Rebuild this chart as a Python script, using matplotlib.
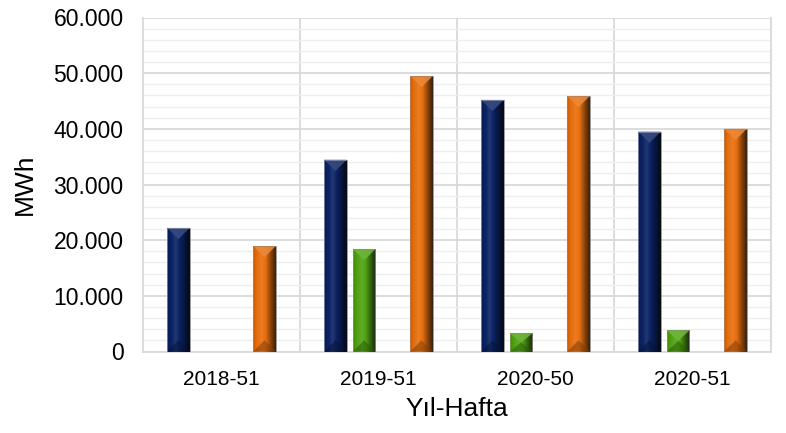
import numpy as np
import matplotlib
matplotlib.use("Agg")
import matplotlib.pyplot as plt
from matplotlib.colors import to_rgb
from matplotlib.patches import Polygon
from matplotlib.ticker import MultipleLocator, FuncFormatter

plt.rcParams['font.family'] = ['Liberation Sans', 'DejaVu Sans']

categories = ["2018-51", "2019-51", "2020-50", "2020-51"]
series_blue = [22200, 34450, 45200, 39500]
series_green = [0, 18400, 3250, 3800]
series_orange = [18950, 49500, 45900, 40000]
y_ticks = [0, 10000, 20000, 30000, 40000, 50000, 60000]

colors = {"blue": "#0a2264", "green": "#4fa310", "orange": "#e86e0c"}

W, H, DPI = 7.86, 4.33, 100
fig = plt.figure(figsize=(W, H), dpi=DPI)
L, R, B, T = 143/786, 771/786, 1 - 351.5/433, 1 - 17.5/433
ax = fig.add_axes([L, B, R - L, T - B])

ymax = 60000
xmin, xmax = -0.5, len(categories) - 0.5
ax_w_px = W * DPI * (R - L)
ax_h_px = H * DPI * (T - B)
px_x = (xmax - xmin) / ax_w_px
px_y = ymax / ax_h_px

slot = 28.7 * px_x
bw = 22.5 * px_x
offsets = [-1.5 * slot, -0.5 * slot, 1.5 * slot]  # third slot empty

def shade(c, f):
    c = np.array(to_rgb(c))
    if f >= 1:
        return tuple(c + (1 - c) * (f - 1))
    return tuple(c * f)

def draw_bar(x, h, col):
    if h <= 0:
        return
    bar = ax.bar(x, h, width=bw, color=col, edgecolor='none', linewidth=0, zorder=3)[0]
    stops = [(0.0, 0.8), (0.1, 0.95), (0.38, 1.1), (0.55, 1.0), (0.75, 0.65), (1.0, 0.28)]
    n = 64
    xs_ = np.linspace(0, 1, n)
    fs = np.interp(xs_, [s[0] for s in stops], [s[1] for s in stops])
    img = np.array([[shade(col, f) for f in fs]])
    im = ax.imshow(img, extent=[x - bw/2, x + bw/2, 0, h], aspect='auto',
                   interpolation='bilinear', zorder=3.1)
    im.set_clip_path(bar)
    th = (bw / px_x) / 2 * px_y
    th = min(th, h / 2)
    top = Polygon([[x - bw/2, h], [x + bw/2, h], [x, h - th]], closed=True,
                  facecolor=shade(col, 1.18), edgecolor='none', alpha=0.9, zorder=3.2)
    ax.add_patch(top)
    bot = Polygon([[x - bw/2, 0], [x + bw/2, 0], [x, th]], closed=True,
                  facecolor=shade(col, 0.55), edgecolor='none', alpha=0.55, zorder=3.2)
    ax.add_patch(bot)
    ax.add_patch(plt.Rectangle((x - bw/2, 0), bw, h, fill=False, edgecolor='#8c8c8c',
                               linewidth=0.6, zorder=3.3))

xs = np.arange(len(categories))
for i in range(len(categories)):
    draw_bar(xs[i] + offsets[0], series_blue[i], colors["blue"])
    draw_bar(xs[i] + offsets[1], series_green[i], colors["green"])
    draw_bar(xs[i] + offsets[2], series_orange[i], colors["orange"])

ax.set_xlim(xmin, xmax)
ax.set_ylim(0, ymax)
ax.set_yticks(y_ticks)
ax.yaxis.set_minor_locator(MultipleLocator(2000))
ax.yaxis.set_major_formatter(FuncFormatter(lambda v, p: f"{int(v):,}".replace(",", ".")))
ax.set_xticks(xs)
ax.set_xticklabels(categories)

ax.grid(axis='y', which='major', color='#d9d9d9', linewidth=1.3, zorder=1)
ax.grid(axis='y', which='minor', color='#eeeeee', linewidth=1.0, zorder=0.9)
for b in np.arange(0.5, len(categories) - 0.5, 1):
    ax.axvline(b, color='#d9d9d9', linewidth=1.3, zorder=1)
for s in ['left', 'right', 'bottom']:
    ax.spines[s].set_color('#d9d9d9')
    ax.spines[s].set_linewidth(1.3)
ax.spines['top'].set_visible(False)

ax.tick_params(axis='both', which='both', length=0)
ax.tick_params(axis='y', labelsize=16.5, pad=14)
ax.tick_params(axis='x', labelsize=15, pad=13)
ax.set_xlabel("Yıl-Hafta", fontsize=19, labelpad=6)
ax.set_ylabel("MWh", fontsize=19, labelpad=12)

fig.savefig("out.png", dpi=DPI)
